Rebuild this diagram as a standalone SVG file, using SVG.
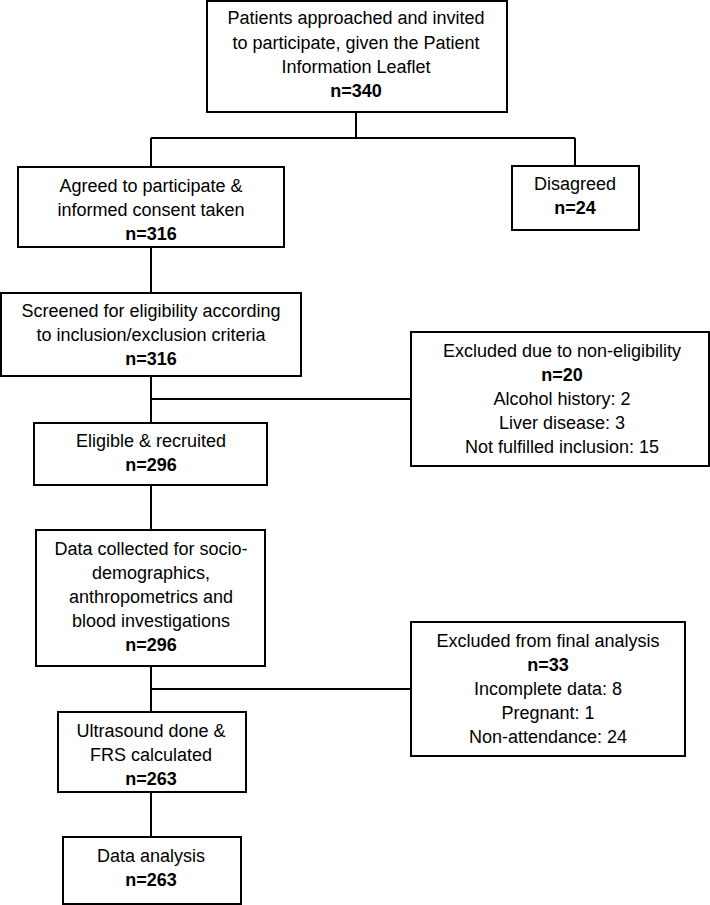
<svg xmlns="http://www.w3.org/2000/svg" width="710" height="905" viewBox="0 0 710 905">
<style>
.box{fill:#fff;stroke:#000;stroke-width:2}
.t{font-family:"Liberation Sans",Arial,sans-serif;font-size:18px;text-anchor:middle;fill:#000}
.b{font-weight:bold}
.c{stroke:#000;stroke-width:2;fill:none}
</style>
<rect width="710" height="905" fill="#fff"/>
<g id="connectors">
<path class="c" d="M356 112V138M151 138H575M151 138V167M575 138V166"/>
<path class="c" d="M151 247V293"/>
<path class="c" d="M151 376V423M151 399H411"/>
<path class="c" d="M151 485V530"/>
<path class="c" d="M151 666V712M151 689H411"/>
<path class="c" d="M151 792V837"/>
</g>
<g id="n1">
<rect class="box" x="207" y="1" width="300" height="111"/>
<text class="t" x="356" y="24">Patients approached and invited</text>
<text class="t" x="356" y="49">to participate, given the Patient</text>
<text class="t" x="356" y="73">Information Leaflet</text>
<text class="t b" x="356" y="97">n=340</text>
</g>
<g id="n2">
<rect class="box" x="18" y="167" width="266" height="80"/>
<text class="t" x="151" y="192">Agreed to participate &amp;</text>
<text class="t" x="151" y="216">informed consent taken</text>
<text class="t b" x="151" y="240">n=316</text>
</g>
<g id="n3">
<rect class="box" x="512" y="166" width="127" height="64"/>
<text class="t" x="575" y="190">Disagreed</text>
<text class="t b" x="575" y="214">n=24</text>
</g>
<g id="n4">
<rect class="box" x="1" y="293" width="300" height="83"/>
<text class="t" x="151" y="317">Screened for eligibility according</text>
<text class="t" x="151" y="341">to inclusion/exclusion criteria</text>
<text class="t b" x="151" y="365">n=316</text>
</g>
<g id="n5">
<rect class="box" x="411" y="332" width="298" height="134"/>
<text class="t" x="562" y="357">Excluded due to non-eligibility</text>
<text class="t b" x="562" y="381">n=20</text>
<text class="t" x="562" y="405">Alcohol history: 2</text>
<text class="t" x="562" y="429">Liver disease: 3</text>
<text class="t" x="562" y="453">Not fulfilled inclusion: 15</text>
</g>
<g id="n6">
<rect class="box" x="34" y="423" width="233" height="62"/>
<text class="t" x="151" y="447">Eligible &amp; recruited</text>
<text class="t b" x="151" y="471">n=296</text>
</g>
<g id="n7">
<rect class="box" x="36" y="530" width="229" height="136"/>
<text class="t" x="151" y="555">Data collected for socio-</text>
<text class="t" x="151" y="579">demographics,</text>
<text class="t" x="151" y="603">anthropometrics and</text>
<text class="t" x="151" y="627">blood investigations</text>
<text class="t b" x="151" y="651">n=296</text>
</g>
<g id="n8">
<rect class="box" x="411" y="622" width="274" height="134"/>
<text class="t" x="548" y="647">Excluded from final analysis</text>
<text class="t b" x="548" y="671">n=33</text>
<text class="t" x="548" y="695">Incomplete data: 8</text>
<text class="t" x="548" y="719">Pregnant: 1</text>
<text class="t" x="548" y="743">Non-attendance: 24</text>
</g>
<g id="n9">
<rect class="box" x="58" y="712" width="188" height="80"/>
<text class="t" x="151" y="737">Ultrasound done &amp;</text>
<text class="t" x="151" y="761">FRS calculated</text>
<text class="t b" x="151" y="785">n=263</text>
</g>
<g id="n10">
<rect class="box" x="63" y="837" width="178" height="67"/>
<text class="t" x="151" y="862">Data analysis</text>
<text class="t b" x="151" y="886">n=263</text>
</g>
</svg>
